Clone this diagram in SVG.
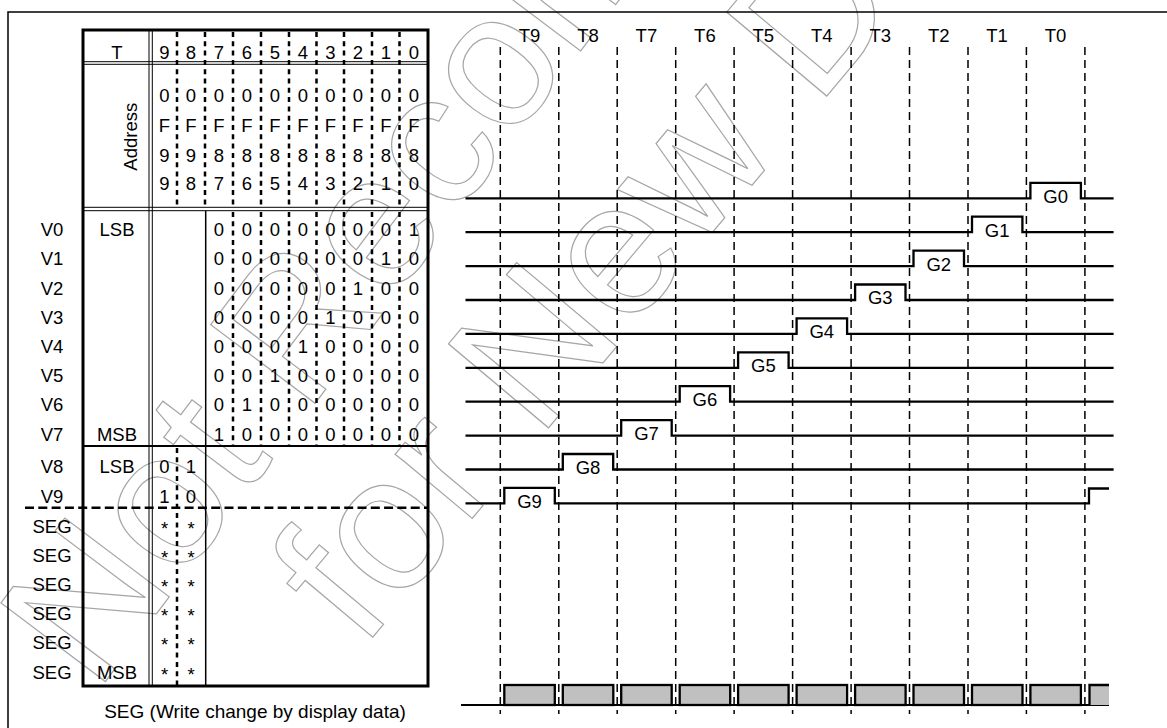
<svg xmlns="http://www.w3.org/2000/svg" width="1167" height="728" viewBox="0 0 1167 728">
<style>
text{font-family:"Liberation Sans",Arial,sans-serif;font-size:18.5px;fill:#000;text-anchor:middle}
.wm{font-size:190px;fill:none;stroke:#a6a6a6;stroke-width:1.2;text-anchor:start}
.ln{stroke:#000;fill:none}
.dsh{stroke:#000;stroke-width:2.5;stroke-dasharray:5 4.3;fill:none}
.vd{stroke:#000;stroke-width:1.5;stroke-dasharray:8 5;fill:none}
.wave{stroke:#000;stroke-width:2.3;fill:none;stroke-linejoin:miter}
.bar{fill:#c0c0c0;stroke:#000;stroke-width:2.3}
</style>
<rect width="1167" height="728" fill="#fff"/>
<g id="watermark">
<text class="wm" transform="translate(96,694) rotate(-53)">Not Recommended</text>
<text class="wm" transform="translate(362,650) rotate(-50)">for New Design</text>
</g>
<path class="ln" stroke-width="1.5" d="M8 728V12H1167"/>
<g id="table">
<rect x="83" y="30" width="345" height="656" class="ln" stroke-width="3"/>
<path class="ln" stroke-width="1" d="M149 30V686M152.3 30V686M83 61.7H428M83 64.3H428M83 207.3H428M83 210.7H428"/>
<path class="ln" stroke-width="2" d="M83 446H428"/>
<path class="ln" stroke-width="1.5" d="M205.7 210.7V686"/>
<path class="dsh" d="M177 32V206M205 32V206M233 32V206M261 32V206M289 32V206M316.5 32V206M344 32V206M372 32V206M399.5 32V206"/>
<path class="dsh" d="M233 212V445M261 212V445M289 212V445M316.5 212V445M344 212V445M372 212V445M399.5 212V445"/>
<path class="dsh" d="M177 448V685"/>
<path class="ln" stroke-width="2.5" stroke-dasharray="9 4.3" d="M25 507.7H427"/>
</g>
<g id="header">
<text x="117" y="58.6">T</text>
<text x="164.5" y="58.6">9</text><text x="191" y="58.6">8</text><text x="219" y="58.6">7</text><text x="247" y="58.6">6</text><text x="275" y="58.6">5</text><text x="302.8" y="58.6">4</text><text x="330.3" y="58.6">3</text><text x="358" y="58.6">2</text><text x="385.8" y="58.6">1</text><text x="413.8" y="58.6">0</text>
<text transform="translate(136.5,136.7) rotate(-90)">Address</text>
<text x="164.5" y="102.3">0</text><text x="191" y="102.3">0</text><text x="219" y="102.3">0</text><text x="247" y="102.3">0</text><text x="275" y="102.3">0</text><text x="302.8" y="102.3">0</text><text x="330.3" y="102.3">0</text><text x="358" y="102.3">0</text><text x="385.8" y="102.3">0</text><text x="413.8" y="102.3">0</text>
<text x="164.5" y="132.3">F</text><text x="191" y="132.3">F</text><text x="219" y="132.3">F</text><text x="247" y="132.3">F</text><text x="275" y="132.3">F</text><text x="302.8" y="132.3">F</text><text x="330.3" y="132.3">F</text><text x="358" y="132.3">F</text><text x="385.8" y="132.3">F</text><text x="413.8" y="132.3">F</text>
<text x="164.5" y="161.7">9</text><text x="191" y="161.7">9</text><text x="219" y="161.7">8</text><text x="247" y="161.7">8</text><text x="275" y="161.7">8</text><text x="302.8" y="161.7">8</text><text x="330.3" y="161.7">8</text><text x="358" y="161.7">8</text><text x="385.8" y="161.7">8</text><text x="413.8" y="161.7">8</text>
<text x="164.5" y="190">9</text><text x="191" y="190">8</text><text x="219" y="190">7</text><text x="247" y="190">6</text><text x="275" y="190">5</text><text x="302.8" y="190">4</text><text x="330.3" y="190">3</text><text x="358" y="190">2</text><text x="385.8" y="190">1</text><text x="413.8" y="190">0</text>
</g>
<g id="vrows">
<text x="52" y="236">V0</text><text x="117" y="236">LSB</text>
<text x="219" y="236">0</text><text x="247" y="236">0</text><text x="275" y="236">0</text><text x="302.8" y="236">0</text><text x="330.3" y="236">0</text><text x="358" y="236">0</text><text x="385.8" y="236">0</text><text x="413.8" y="236">1</text>
<text x="52" y="265.2">V1</text>
<text x="219" y="265.2">0</text><text x="247" y="265.2">0</text><text x="275" y="265.2">0</text><text x="302.8" y="265.2">0</text><text x="330.3" y="265.2">0</text><text x="358" y="265.2">0</text><text x="385.8" y="265.2">1</text><text x="413.8" y="265.2">0</text>
<text x="52" y="294.5">V2</text>
<text x="219" y="294.5">0</text><text x="247" y="294.5">0</text><text x="275" y="294.5">0</text><text x="302.8" y="294.5">0</text><text x="330.3" y="294.5">0</text><text x="358" y="294.5">1</text><text x="385.8" y="294.5">0</text><text x="413.8" y="294.5">0</text>
<text x="52" y="323.7">V3</text>
<text x="219" y="323.7">0</text><text x="247" y="323.7">0</text><text x="275" y="323.7">0</text><text x="302.8" y="323.7">0</text><text x="330.3" y="323.7">1</text><text x="358" y="323.7">0</text><text x="385.8" y="323.7">0</text><text x="413.8" y="323.7">0</text>
<text x="52" y="353">V4</text>
<text x="219" y="353">0</text><text x="247" y="353">0</text><text x="275" y="353">0</text><text x="302.8" y="353">1</text><text x="330.3" y="353">0</text><text x="358" y="353">0</text><text x="385.8" y="353">0</text><text x="413.8" y="353">0</text>
<text x="52" y="382.2">V5</text>
<text x="219" y="382.2">0</text><text x="247" y="382.2">0</text><text x="275" y="382.2">1</text><text x="302.8" y="382.2">0</text><text x="330.3" y="382.2">0</text><text x="358" y="382.2">0</text><text x="385.8" y="382.2">0</text><text x="413.8" y="382.2">0</text>
<text x="52" y="411.4">V6</text>
<text x="219" y="411.4">0</text><text x="247" y="411.4">1</text><text x="275" y="411.4">0</text><text x="302.8" y="411.4">0</text><text x="330.3" y="411.4">0</text><text x="358" y="411.4">0</text><text x="385.8" y="411.4">0</text><text x="413.8" y="411.4">0</text>
<text x="52" y="440.7">V7</text><text x="117" y="440.7">MSB</text>
<text x="219" y="440.7">1</text><text x="247" y="440.7">0</text><text x="275" y="440.7">0</text><text x="302.8" y="440.7">0</text><text x="330.3" y="440.7">0</text><text x="358" y="440.7">0</text><text x="385.8" y="440.7">0</text><text x="413.8" y="440.7">0</text>
<text x="52" y="473.3">V8</text><text x="117" y="473.3">LSB</text><text x="164.5" y="473.3">0</text><text x="191" y="473.3">1</text>
<text x="52" y="502.7">V9</text><text x="164.5" y="502.7">1</text><text x="191" y="502.7">0</text>
</g>
<g id="segrows">
<text x="52" y="532.7">SEG</text><text x="164.5" y="534.7">*</text><text x="191" y="534.7">*</text>
<text x="52" y="561.7">SEG</text><text x="164.5" y="563.7">*</text><text x="191" y="563.7">*</text>
<text x="52" y="590.7">SEG</text><text x="164.5" y="592.7">*</text><text x="191" y="592.7">*</text>
<text x="52" y="620">SEG</text><text x="164.5" y="622">*</text><text x="191" y="622">*</text>
<text x="52" y="649.3">SEG</text><text x="164.5" y="651.3">*</text><text x="191" y="651.3">*</text>
<text x="52" y="679">SEG</text><text x="117" y="679">MSB</text><text x="164.5" y="681">*</text><text x="191" y="681">*</text>
<text x="255" y="717.5" style="font-size:19px">SEG (Write change by display data)</text>
</g>
<g id="timing-grid">
<path class="vd" d="M500.3 47V714M558.8 47V714M617.2 47V714M675.7 47V714M734.1 47V714M792.6 47V714M851.1 47V714M909.5 47V714M968 47V714M1026.4 47V714M1084.9 47V714"/>
<text x="529.5" y="41.5">T9</text><text x="588" y="41.5">T8</text><text x="646.4" y="41.5">T7</text><text x="704.9" y="41.5">T6</text><text x="763.3" y="41.5">T5</text><text x="821.8" y="41.5">T4</text><text x="880.2" y="41.5">T3</text><text x="938.7" y="41.5">T2</text><text x="997.1" y="41.5">T1</text><text x="1055.6" y="41.5">T0</text>
</g>
<g id="waves">
<path class="wave" d="M465.5 198.3H1030.4V182.8H1080.9V198.3H1113.6"/>
<path class="wave" d="M465.5 232.2H972V216.7H1022.4V232.2H1113.6"/>
<path class="wave" d="M465.5 266.1H913.5V250.6H964V266.1H1113.6"/>
<path class="wave" d="M465.5 300H855.1V284.5H905.5V300H1113.6"/>
<path class="wave" d="M465.5 333.9H796.6V318.4H847.1V333.9H1113.6"/>
<path class="wave" d="M465.5 367.8H738.1V352.3H788.6V367.8H1113.6"/>
<path class="wave" d="M465.5 401.7H679.7V386.2H730.1V401.7H1113.6"/>
<path class="wave" d="M465.5 435.6H621.2V420.1H671.7V435.6H1113.6"/>
<path class="wave" d="M465.5 469.5H562.8V454H613.2V469.5H1113.6"/>
<path class="wave" d="M465.5 503.4H504.3V487.9H554.8V503.4H1089V488.5H1109"/>
<text x="1055.7" y="202.7">G0</text><text x="997.2" y="236.6">G1</text><text x="938.8" y="270.5">G2</text><text x="880.3" y="304.4">G3</text><text x="821.8" y="338.3">G4</text><text x="763.4" y="372.2">G5</text><text x="704.9" y="406.1">G6</text><text x="646.5" y="440">G7</text><text x="588" y="473.9">G8</text><text x="529.5" y="507.8">G9</text>
</g>
<g id="seg-bars">
<path class="ln" stroke-width="2" d="M461 705H1109"/>
<rect class="bar" x="504.3" y="685" width="50.5" height="20"/>
<rect class="bar" x="562.8" y="685" width="50.5" height="20"/>
<rect class="bar" x="621.2" y="685" width="50.5" height="20"/>
<rect class="bar" x="679.7" y="685" width="50.5" height="20"/>
<rect class="bar" x="738.1" y="685" width="50.5" height="20"/>
<rect class="bar" x="796.6" y="685" width="50.5" height="20"/>
<rect class="bar" x="855.1" y="685" width="50.5" height="20"/>
<rect class="bar" x="913.5" y="685" width="50.5" height="20"/>
<rect class="bar" x="972" y="685" width="50.5" height="20"/>
<rect class="bar" x="1030.4" y="685" width="50.5" height="20"/>
<rect x="1089.5" y="685" width="19.5" height="20" fill="#c0c0c0"/>
<path class="ln" stroke-width="2.3" d="M1089.5 705V685H1109"/>
</g>
</svg>
